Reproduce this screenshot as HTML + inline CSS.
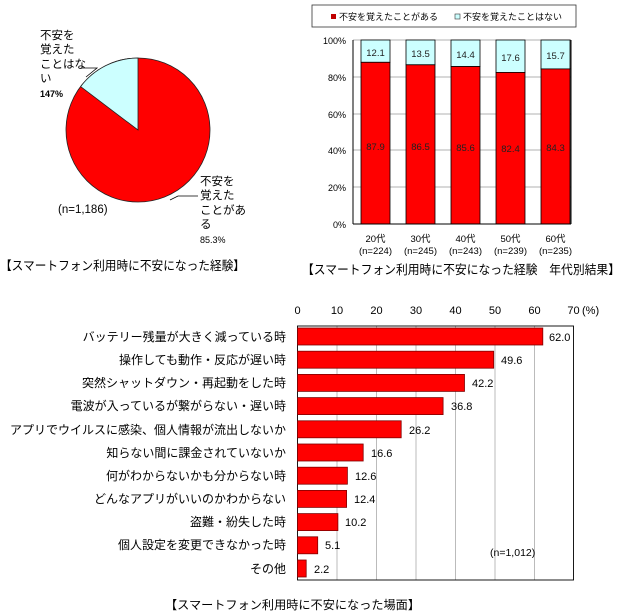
<!DOCTYPE html>
<html><head><meta charset="utf-8"><style>
html,body{margin:0;padding:0;background:#fff;}
svg{display:block;font-family:"Liberation Sans","Noto Sans CJK JP",sans-serif;}
</style></head><body>
<svg width="623" height="615" viewBox="0 0 623 615" xmlns="http://www.w3.org/2000/svg">
<!-- Pie -->
<circle cx="138" cy="130" r="72" fill="#ff0000" stroke="#222" stroke-width="0.8"/>
<path d="M138,130 L138,58 A72,72 0 0 0 80.6,86.6 Z" fill="#ccffff" stroke="#222" stroke-width="0.8"/>
<g font-size="11.5" fill="#000">
<text x="40" y="39">不安を</text>
<text x="40" y="53">覚えた</text>
<text x="40" y="68">ことはな</text>
<text x="40" y="82">い</text>
<text x="40" y="97" font-size="9" font-weight="bold">147%</text>
<text x="200" y="185">不安を</text>
<text x="200" y="199">覚えた</text>
<text x="200" y="214">ことがあ</text>
<text x="200" y="228">る</text>
<text x="200" y="243" font-size="9">85.3%</text>
<text x="58" y="213">(n=1,186)</text>
</g>
<polyline points="82,68 97,68 86,77" fill="none" stroke="#000" stroke-width="0.8"/>
<polyline points="198,196 178,196 170,200" fill="none" stroke="#000" stroke-width="0.8"/>
<text x="0" y="270" font-size="12.5" textLength="245" lengthAdjust="spacingAndGlyphs">【スマートフォン利用時に不安になった経験】</text>

<!-- Stacked bar -->
<rect x="312" y="5" width="264" height="22" fill="#fff" stroke="#333" stroke-width="0.8"/>
<rect x="331" y="14" width="5" height="5" fill="#c00000"/>
<text x="339" y="20" font-size="9">不安を覚えたことがある</text>
<rect x="455" y="14" width="5" height="5" fill="#ccffff" stroke="#333" stroke-width="0.6"/>
<text x="463" y="20" font-size="9">不安を覚えたことはない</text>
<g stroke="#999" stroke-width="0.8">
<line x1="353" y1="40" x2="571" y2="40"/><line x1="353" y1="77" x2="571" y2="77"/>
<line x1="353" y1="114" x2="571" y2="114"/><line x1="353" y1="150" x2="571" y2="150"/>
<line x1="353" y1="187" x2="571" y2="187"/>
</g>
<g font-size="9" text-anchor="end">
<text x="346" y="44">100%</text><text x="346" y="81">80%</text><text x="346" y="118">60%</text>
<text x="346" y="154">40%</text><text x="346" y="191">20%</text><text x="346" y="228">0%</text>
</g>
<g stroke="#000" stroke-width="0.8">
<rect x="361" y="40" width="29" height="22.3" fill="#ccffff"/><rect x="361" y="62.3" width="29" height="161.7" fill="#ff0000"/>
<rect x="406" y="40" width="29" height="24.8" fill="#ccffff"/><rect x="406" y="64.8" width="29" height="159.2" fill="#ff0000"/>
<rect x="451" y="40" width="29" height="26.5" fill="#ccffff"/><rect x="451" y="66.5" width="29" height="157.5" fill="#ff0000"/>
<rect x="496" y="40" width="29" height="32.4" fill="#ccffff"/><rect x="496" y="72.4" width="29" height="151.6" fill="#ff0000"/>
<rect x="541" y="40" width="29" height="28.9" fill="#ccffff"/><rect x="541" y="68.9" width="29" height="155.1" fill="#ff0000"/>
</g>
<line x1="353" y1="40" x2="353" y2="224" stroke="#000"/>
<line x1="353" y1="224" x2="571" y2="224" stroke="#000"/>
<line x1="571" y1="40" x2="571" y2="224" stroke="#000"/>
<g font-size="9.5" text-anchor="middle" fill="#222">
<text x="375.5" y="56">12.1</text><text x="420.5" y="57">13.5</text><text x="465.5" y="58">14.4</text><text x="510.5" y="61">17.6</text><text x="555.5" y="59">15.7</text>
<text x="375.5" y="150">87.9</text><text x="420.5" y="150">86.5</text><text x="465.5" y="151">85.6</text><text x="510.5" y="152">82.4</text><text x="555.5" y="151">84.3</text>
</g>
<g font-size="9.5" text-anchor="middle">
<text x="375.5" y="242">20代</text><text x="420.5" y="242">30代</text><text x="465.5" y="242">40代</text><text x="510.5" y="242">50代</text><text x="555.5" y="242">60代</text>
<text x="375.5" y="254">(n=224)</text><text x="420.5" y="254">(n=245)</text><text x="465.5" y="254">(n=243)</text><text x="510.5" y="254">(n=239)</text><text x="555.5" y="254">(n=235)</text>
</g>
<text x="302" y="274" font-size="12.5" textLength="318" lengthAdjust="spacingAndGlyphs">【スマートフォン利用時に不安になった経験　年代別結果】</text>

<!-- Horizontal bar -->
<g stroke="#aaa" stroke-width="0.8">
<line x1="337" y1="326" x2="337" y2="580"/><line x1="376.5" y1="326" x2="376.5" y2="580"/>
<line x1="416" y1="326" x2="416" y2="580"/><line x1="455.5" y1="326" x2="455.5" y2="580"/>
<line x1="495" y1="326" x2="495" y2="580"/><line x1="534.5" y1="326" x2="534.5" y2="580"/>
</g>
<rect x="297.5" y="326" width="276" height="254" fill="none" stroke="#000" stroke-width="0.9"/>
<g font-size="11" text-anchor="middle">
<text x="297.5" y="314">0</text><text x="337" y="314">10</text><text x="376.5" y="314">20</text><text x="416" y="314">30</text>
<text x="455.5" y="314">40</text><text x="495" y="314">50</text><text x="534.5" y="314">60</text><text x="573.5" y="314">70</text>
</g>
<text x="582" y="314" font-size="11">(%)</text>
<g fill="#ff0000" stroke="#800000" stroke-width="0.8">
<rect x="297.5" y="328" width="245.3" height="17"/>
<rect x="297.5" y="351.2" width="196.2" height="17"/>
<rect x="297.5" y="374.4" width="167" height="17"/>
<rect x="297.5" y="397.6" width="145.6" height="17"/>
<rect x="297.5" y="420.8" width="103.7" height="17"/>
<rect x="297.5" y="444" width="65.7" height="17"/>
<rect x="297.5" y="467.2" width="49.9" height="17"/>
<rect x="297.5" y="490.4" width="49.1" height="17"/>
<rect x="297.5" y="513.6" width="40.4" height="17"/>
<rect x="297.5" y="536.8" width="20.2" height="17"/>
<rect x="297.5" y="560" width="8.7" height="17"/>
</g>
<g font-size="11">
<text x="549" y="341">62.0</text><text x="501" y="364">49.6</text><text x="472" y="387">42.2</text>
<text x="451" y="410">36.8</text><text x="409" y="434">26.2</text><text x="371" y="457">16.6</text>
<text x="355" y="480">12.6</text><text x="354" y="503">12.4</text><text x="345" y="526">10.2</text>
<text x="325" y="549">5.1</text><text x="314" y="573">2.2</text>
</g>
<g font-size="12" text-anchor="end">
<text x="286" y="341">バッテリー残量が大きく減っている時</text>
<text x="286" y="364">操作しても動作・反応が遅い時</text>
<text x="286" y="387">突然シャットダウン・再起動をした時</text>
<text x="286" y="410">電波が入っているが繋がらない・遅い時</text>
<text x="286" y="434">アプリでウイルスに感染、個人情報が流出しないか</text>
<text x="286" y="457">知らない間に課金されていないか</text>
<text x="286" y="480">何がわからないかも分からない時</text>
<text x="286" y="503">どんなアプリがいいのかわからない</text>
<text x="286" y="526">盗難・紛失した時</text>
<text x="286" y="549">個人設定を変更できなかった時</text>
<text x="286" y="573">その他</text>
</g>
<text x="490" y="556" font-size="10.5">(n=1,012)</text>
<text x="165" y="609" font-size="12" textLength="255" lengthAdjust="spacingAndGlyphs">【スマートフォン利用時に不安になった場面】</text>
</svg>
</body></html>
